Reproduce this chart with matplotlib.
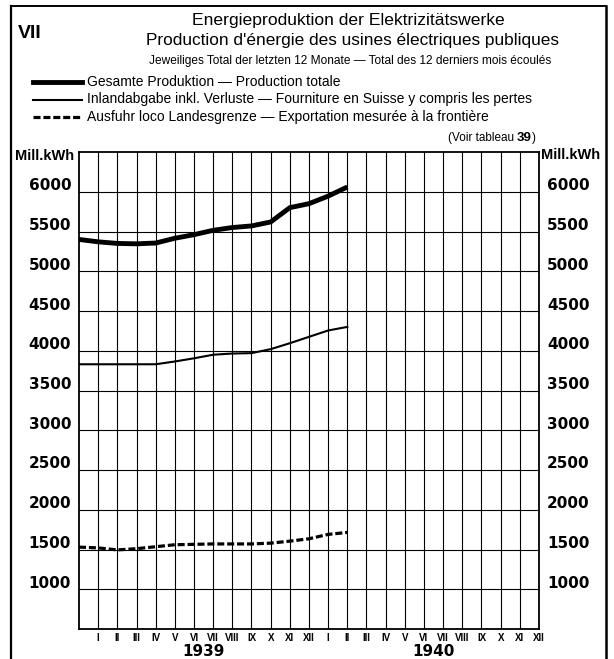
import numpy as np
import matplotlib
matplotlib.use("Agg")
import matplotlib.pyplot as plt
import matplotlib.transforms as mtransforms
from matplotlib.lines import Line2D

# month index 0 = XII 1938, 1..12 = 1939, 13..24 = 1940
months = np.arange(15)
total = [5400, 5370, 5350, 5345, 5355, 5415, 5460, 5515, 5550, 5570, 5620, 5800, 5850, 5945, 6060]
inland = [3830, 3830, 3830, 3830, 3830, 3865, 3905, 3950, 3965, 3970, 4020, 4095, 4175, 4255, 4300]
export = [1530, 1520, 1495, 1510, 1535, 1560, 1565, 1570, 1570, 1570, 1580, 1605, 1635, 1690, 1715]

month_labels = ["I", "II", "III", "IV", "V", "VI", "VII", "VIII", "IX", "X", "XI", "XII"] * 2
years = ["1939", "1940"]
y_ticks = np.arange(1000, 6001, 500)

legend_labels = [
    "Gesamte Produktion \u2014 Production totale",
    "Inlandabgabe inkl. Verluste \u2014 Fourniture en Suisse y compris les pertes",
    "Ausfuhr loco Landesgrenze \u2014 Exportation mesur\u00e9e \u00e0 la fronti\u00e8re",
]

plt.rcParams["font.family"] = ["Liberation Sans", "DejaVu Sans"]

W, H = 614, 659
fig = plt.figure(figsize=(W / 100, H / 100), dpi=100)


def fx(px):
    return px / W


def fy(py):
    return 1 - py / H


ax = fig.add_axes([fx(79), fy(629), 460 / W, 477 / H])
ax.set_xlim(0, 24)
ax.set_ylim(500, 6500)

# lines
dash = (2.2, 0.9)
ax.plot(months, total, color="black", lw=3.5, solid_capstyle="butt", zorder=3)
ax.plot(months, inland, color="black", lw=1.5, zorder=3)
ax.plot(months, export, color="black", lw=2.3, dashes=dash, zorder=3)

# grid
ax.set_xticks(np.arange(1, 25))
ax.set_yticks(y_ticks)
ax.grid(True, color="black", lw=0.8)
ax.tick_params(length=0)
for s in ax.spines.values():
    s.set_linewidth(1.3)

ax.set_xticklabels(month_labels, fontsize=7, fontweight="bold")
ax.tick_params(axis="x", pad=3)
ax.set_yticklabels([])

# y labels on both sides, sitting a bit above their grid line
up = mtransforms.ScaledTranslation(0, 0.06, fig.dpi_scale_trans)
ytr = ax.get_yaxis_transform() + up
for v in y_ticks:
    ax.text(-0.017, v, str(v), transform=ytr, ha="right", va="center",
            fontsize=11, fontweight="bold", family="DejaVu Sans")
    ax.text(1.017, v, str(v), transform=ytr, ha="left", va="center",
            fontsize=11, fontweight="bold", family="DejaVu Sans")

# years
for i, yr in enumerate(years):
    ax.text(6.5 + 12 * i, -0.048, yr, transform=ax.get_xaxis_transform(),
            ha="center", va="center", fontsize=11, fontweight="bold",
            family="DejaVu Sans")

# unit labels
fig.text(fx(45), fy(156), "Mill.kWh", ha="center", va="center", fontsize=10.5,
         fontweight="bold")
fig.text(fx(571), fy(155), "Mill.kWh", ha="center", va="center", fontsize=10.5,
         fontweight="bold")

# titles
fig.text(fx(30), fy(33), "VII", ha="center", va="center", fontsize=14, fontweight="bold")
fig.text(fx(348), fy(21), "Energieproduktion der Elektrizit\u00e4tswerke",
         ha="center", va="center", fontsize=12.6)
fig.text(fx(352), fy(41), "Production d'\u00e9nergie des usines \u00e9lectriques publiques",
         ha="center", va="center", fontsize=12.4)
fig.text(fx(350), fy(61), "Jeweiliges Total der letzten 12 Monate \u2014 Total des 12 derniers mois \u00e9coul\u00e9s",
         ha="center", va="center", fontsize=8.6)

# legend
styles = [dict(lw=3.5), dict(lw=1.5), dict(lw=2.3, dashes=dash)]
for i, (lab, st) in enumerate(zip(legend_labels, styles)):
    yy = fy(82 + 17.5 * i)
    fig.add_artist(Line2D([fx(33), fx(82)], [yy, yy], color="black", **st))
    fig.text(fx(87), yy, lab, ha="left", va="center", fontsize=10)

# source note, pieces on one baseline, ending at the right of the plot
fig.canvas.draw()
r = fig.canvas.get_renderer()
parts = [("(Voir tableau ", "normal", 8.5), ("39", "bold", 9.5), (")", "normal", 8.5)]
x = fx(536)
for txt, wt, fs in reversed(parts):
    t = fig.text(x, fy(141), txt, ha="right", va="baseline", fontsize=fs, fontweight=wt)
    bb = t.get_window_extent(r)
    x -= bb.width / W

# outer frame
fig.add_artist(Line2D([fx(11), fx(11)], [fy(6), 0], color="black", lw=1.6))
fig.add_artist(Line2D([fx(606), fx(606)], [fy(6), 0], color="black", lw=1.8))
fig.add_artist(Line2D([fx(11), fx(606)], [fy(6), fy(6)], color="black", lw=1.4))

fig.savefig("out.png", dpi=100)
